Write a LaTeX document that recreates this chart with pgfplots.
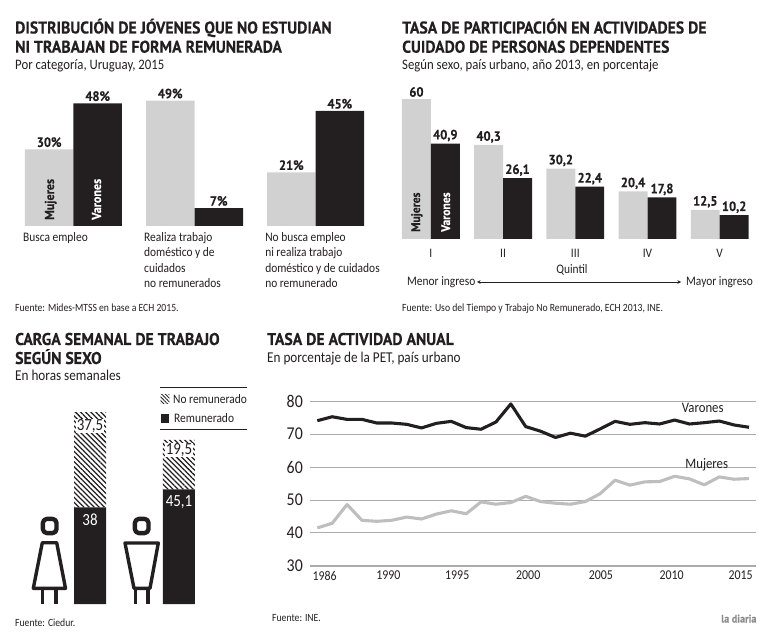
\documentclass[border=0pt]{standalone}
\usepackage{fontspec}
\setmainfont[FakeStretch=0.88]{Carlito}
\newfontfamily\titlebase[FakeStretch=0.925,BoldFeatures={FakeBold=0.25}]{PT Sans}
\newcommand{\titlefont}{\titlebase\bfseries}
\usepackage{pgfplots}
\pgfplotsset{compat=1.18}
\usetikzlibrary{patterns.meta,arrows.meta}
\definecolor{claro}{HTML}{D1D1D1}
\definecolor{oscuro}{HTML}{231F20}
\definecolor{lineaclara}{HTML}{BEBEBE}
\definecolor{grilla}{HTML}{ABABAB}
\definecolor{texto}{HTML}{231F20}
% text placed in reference pixels, y measured from the top
\newcommand{\T}[4][]{\node[anchor=base west,inner sep=0pt,text=texto,#1] at (#2pt,{(637-#3)*1pt}) {#4};}
\pgfplotsset{
  barras/.style={
    scale only axis,clip=false,ymin=0,
    axis line style={draw=none},major tick length=0pt,ytick=\empty,xtick=data,
    /pgf/number format/assume math mode=true,
    /pgf/number format/use comma,
    /pgf/number format/precision=1,
    every node near coord/.append style={font=\titlefont\fontsize{13.5}{15}\selectfont,text=texto,inner sep=2pt},
  },
}
\begin{document}
\begin{tikzpicture}
\path (0pt,0pt) rectangle (767pt,637pt);

% ---- panel 1
\T{15}{33.5}{\titlefont\fontsize{17}{19}\selectfont DISTRIBUCIÓN DE JÓVENES QUE NO ESTUDIAN}
\T{15}{52.7}{\titlefont\fontsize{17}{19}\selectfont NI TRABAJAN DE FORMA REMUNERADA}
\T{15}{70}{\fontsize{14.5}{17}\selectfont Por categoría, Uruguay, 2015}
\begin{axis}[barras,at={(25pt,411pt)},anchor=south west,width=339pt,height=125.3pt,
  ybar=0pt,bar width=48.5pt,xmin=-0.4,xmax=2.4,ymax=49,
  xticklabels={Busca empleo,{Realiza trabajo\\doméstico y de\\cuidados\\no remunerados},{No busca empleo\\ni realiza trabajo\\doméstico y de cuidados\\no remunerado}},
  xticklabel style={anchor=north west,align=left,xshift=-50.5pt,yshift=-6.5pt,inner sep=0pt,font=\fontsize{13}{15.2}\selectfont,text=texto},
  nodes near coords={\pgfmathprintnumber{\pgfplotspointmeta}\%}]
\addplot[draw=none,fill=claro] coordinates {(0,30) (1,49) (2,21)};
\addplot[draw=none,fill=oscuro] coordinates {(0,48) (1,7) (2,45)};
\end{axis}
\node[rotate=90,anchor=base west,inner sep=0pt,text=texto,font=\titlefont\fontsize{13}{14}\selectfont] at (54pt,417pt) {Mujeres};
\node[rotate=90,anchor=base west,inner sep=0pt,text=white,font=\titlefont\fontsize{13}{14}\selectfont] at (101pt,417pt) {Varones};
\T{15}{311.7}{\fontsize{11}{13}\selectfont Fuente: Mides-MTSS en base a ECH 2015.}

% ---- panel 2
\T{402}{33.5}{\titlefont\fontsize{17}{19}\selectfont TASA DE PARTICIPACIÓN EN ACTIVIDADES DE}
\T{402}{52.7}{\titlefont\fontsize{17}{19}\selectfont CUIDADO DE PERSONAS DEPENDENTES}
\T{402}{70}{\fontsize{14.5}{17}\selectfont Según sexo, país urbano, año 2013, en porcentaje}
\begin{axis}[barras,at={(402pt,398pt)},anchor=south west,width=346.6pt,height=140pt,
  ybar=0pt,bar width=28.9pt,xmin=-0.4,xmax=4.4,ymax=60,
  xticklabels={I,II,III,IV,V},
  xticklabel style={font=\fontsize{13}{15}\selectfont,text=texto,inner sep=0pt,yshift=-10pt},
  nodes near coords]
\addplot[draw=none,fill=claro] coordinates {(0,60) (1,40.3) (2,30.2) (3,20.4) (4,12.5)};
\addplot[draw=none,fill=oscuro] coordinates {(0,40.9) (1,26.1) (2,22.4) (3,17.8) (4,10.2)};
\end{axis}
\node[rotate=90,anchor=base west,inner sep=0pt,text=texto,font=\titlefont\fontsize{12.5}{14}\selectfont] at (420pt,405pt) {Mujeres};
\node[rotate=90,anchor=base west,inner sep=0pt,text=white,font=\titlefont\fontsize{12.5}{14}\selectfont] at (450pt,405pt) {Varones};
\node[anchor=base,inner sep=0pt,text=texto,font=\fontsize{13}{15}\selectfont] at (572pt,{(637-274)*1pt}) {Quintil};
\T{407}{286}{\fontsize{13}{15}\selectfont Menor ingreso}
\T{686}{286}{\fontsize{13}{15}\selectfont Mayor ingreso}
\draw[{Stealth[length=3.5pt,width=3.5pt]}-{Stealth[length=3.5pt,width=3.5pt]},line width=0.7pt,texto] (477pt,{(637-282)*1pt}) -- (681pt,{(637-282)*1pt});
\T{402}{311.7}{\fontsize{11}{13}\selectfont Fuente: Uso del Tiempo y Trabajo No Remunerado, ECH 2013, INE.}

% ---- panel 3
\T{15}{345}{\titlefont\fontsize{17}{19}\selectfont CARGA SEMANAL DE TRABAJO}
\T{15}{364}{\titlefont\fontsize{17}{19}\selectfont SEGÚN SEXO}
\T{15}{381}{\fontsize{15}{17}\selectfont En horas semanales}
\begin{axis}[barras,at={(74pt,33pt)},anchor=south west,width=121pt,height=203.2pt,
  ybar stacked,bar width=32pt,xmin=-0.18,xmax=1.18,ymax=80,xtick=\empty]
\addplot[draw=none,fill=oscuro] coordinates {(0,38) (1,45.1)};
\addplot[draw=none,pattern={Lines[angle=-45,distance=3.6pt,line width=1.25pt]},pattern color=oscuro] coordinates {(0,37.5) (1,19.5)};
\end{axis}
\node[text=white,font=\fontsize{17}{19}\selectfont,inner sep=0pt] at (90pt,117pt) {38};
\node[text=white,font=\fontsize{17}{19}\selectfont,inner sep=0pt] at (179pt,135.3pt) {45,1};
\node[text=texto,fill=white,font=\fontsize{17}{19}\selectfont,inner sep=0.5pt] at (90pt,211.3pt) {37,5};
\node[text=texto,fill=white,font=\fontsize{17}{19}\selectfont,inner sep=0.5pt] at (179pt,187pt) {19,5};
% iconos
\begin{scope}[x=1pt,y=1pt,line width=3.4pt,draw=texto,line join=round]
\draw[line width=4.4pt,rounded corners=4pt] (42.9,{637-518.9}) rectangle (56.5,{637-533.1});
\draw (42.3,{637-542.7}) -- (56.7,{637-542.7}) -- (65.5,{637-588.3}) -- (33.3,{637-588.3}) -- cycle;
\draw[line width=3.8pt] (42.5,{637-588.3}) -- (42.5,{637-604});
\draw[line width=3.8pt] (56,{637-588.3}) -- (56,{637-604});
\draw[line width=4.4pt,rounded corners=4pt] (134.9,{637-518.9}) rectangle (148.5,{637-533.1});
\draw (125,{637-543}) -- (158.3,{637-543}) -- (150,{637-588.3}) -- (134,{637-588.3}) -- cycle;
\draw[line width=3.8pt] (135.5,{637-588.3}) -- (135.5,{637-604});
\draw[line width=3.8pt] (148.3,{637-588.3}) -- (148.3,{637-604});
\end{scope}
% leyenda
\draw[line width=0.7pt,texto] (160pt,{(637-387.3)*1pt}) -- (246.7pt,{(637-387.3)*1pt});
\draw[line width=0.7pt,texto] (160pt,{(637-429)*1pt}) -- (246.7pt,{(637-429)*1pt});
\fill[pattern={Lines[angle=-45,distance=2.6pt,line width=0.9pt]},pattern color=oscuro] (160.7pt,{(637-404)*1pt}) rectangle (169.3pt,{(637-395)*1pt});
\fill[oscuro] (160.7pt,{(637-423)*1pt}) rectangle (169.3pt,{(637-413.7)*1pt});
\T{173}{404}{\fontsize{13}{15}\selectfont No remunerado}
\T{174}{422.5}{\fontsize{13}{15}\selectfont Remunerado}
\T{15}{626}{\fontsize{11}{13}\selectfont Fuente: Ciedur.}

% ---- panel 4
\T{267}{345}{\titlefont\fontsize{17}{19}\selectfont TASA DE ACTIVIDAD ANUAL}
\T{267}{363}{\fontsize{15}{17}\selectfont En porcentaje de la PET, país urbano}
\begin{axis}[scale only axis,clip=false,at={(310pt,71.3pt)},anchor=south west,width=446pt,height=164.4pt,
  xmin=1985.51,xmax=2015.47,ymin=30,ymax=80,
  axis x line=bottom,axis y line=left,axis line style={draw=grilla,-},major tick length=0pt,
  y axis line style={draw=none},
  ymajorgrids,major grid style={grilla,line width=0.7pt},
  ytick={30,40,50,60,70,80},
  xtick={1986.49,1990.77,1995.4,2000.17,2005.05,2009.8,2014.44},
  xticklabels={1986,1990,1995,2000,2005,2010,2015},
  /pgf/number format/assume math mode=true,
  yticklabel style={font=\fontsize{18}{20}\selectfont,text=texto,inner sep=0pt,xshift=-7pt},
  xticklabel style={font=\fontsize{13.5}{15}\selectfont,text=texto,inner sep=0pt,yshift=-5pt}]
\addplot[lineaclara,line width=3.1pt,line join=round] coordinates {
(1986,41.5)(1987,42.9)(1988,48.6)(1989,43.8)(1990,43.5)(1991,43.8)(1992,44.8)(1993,44.2)(1994,45.7)(1995,46.7)
(1996,45.8)(1997,49.4)(1998,48.7)(1999,49.2)(2000,51.1)(2001,49.5)(2002,49.0)(2003,48.7)(2004,49.5)(2005,51.9)
(2006,56.0)(2007,54.5)(2008,55.5)(2009,55.6)(2010,57.2)(2011,56.4)(2012,54.6)(2013,57.0)(2014,56.3)(2015,56.5)};
\addplot[oscuro,line width=3.1pt,line join=round] coordinates {
(1986,74.1)(1987,75.3)(1988,74.5)(1989,74.5)(1990,73.4)(1991,73.4)(1992,73.0)(1993,71.9)(1994,73.3)(1995,73.9)
(1996,72.0)(1997,71.5)(1998,73.7)(1999,79.2)(2000,72.3)(2001,70.9)(2002,69.0)(2003,70.3)(2004,69.4)(2005,71.6)
(2006,73.9)(2007,73.0)(2008,73.5)(2009,73.1)(2010,74.3)(2011,73.1)(2012,73.5)(2013,74.0)(2014,72.8)(2015,72.1)};
\end{axis}
\node[anchor=base,inner sep=0pt,text=texto,font=\fontsize{14.5}{16}\selectfont] at (702.7pt,{(637-412.5)*1pt}) {Varones};
\node[anchor=base,inner sep=0pt,text=texto,font=\fontsize{14.5}{16}\selectfont] at (706.7pt,{(637-468.5)*1pt}) {Mujeres};
\T{272}{621.7}{\fontsize{11}{13}\selectfont Fuente: INE.}
\T[text=black!45]{721}{622.5}{\titlefont\fontsize{11}{12}\selectfont la diaria}
\end{tikzpicture}
\end{document}
